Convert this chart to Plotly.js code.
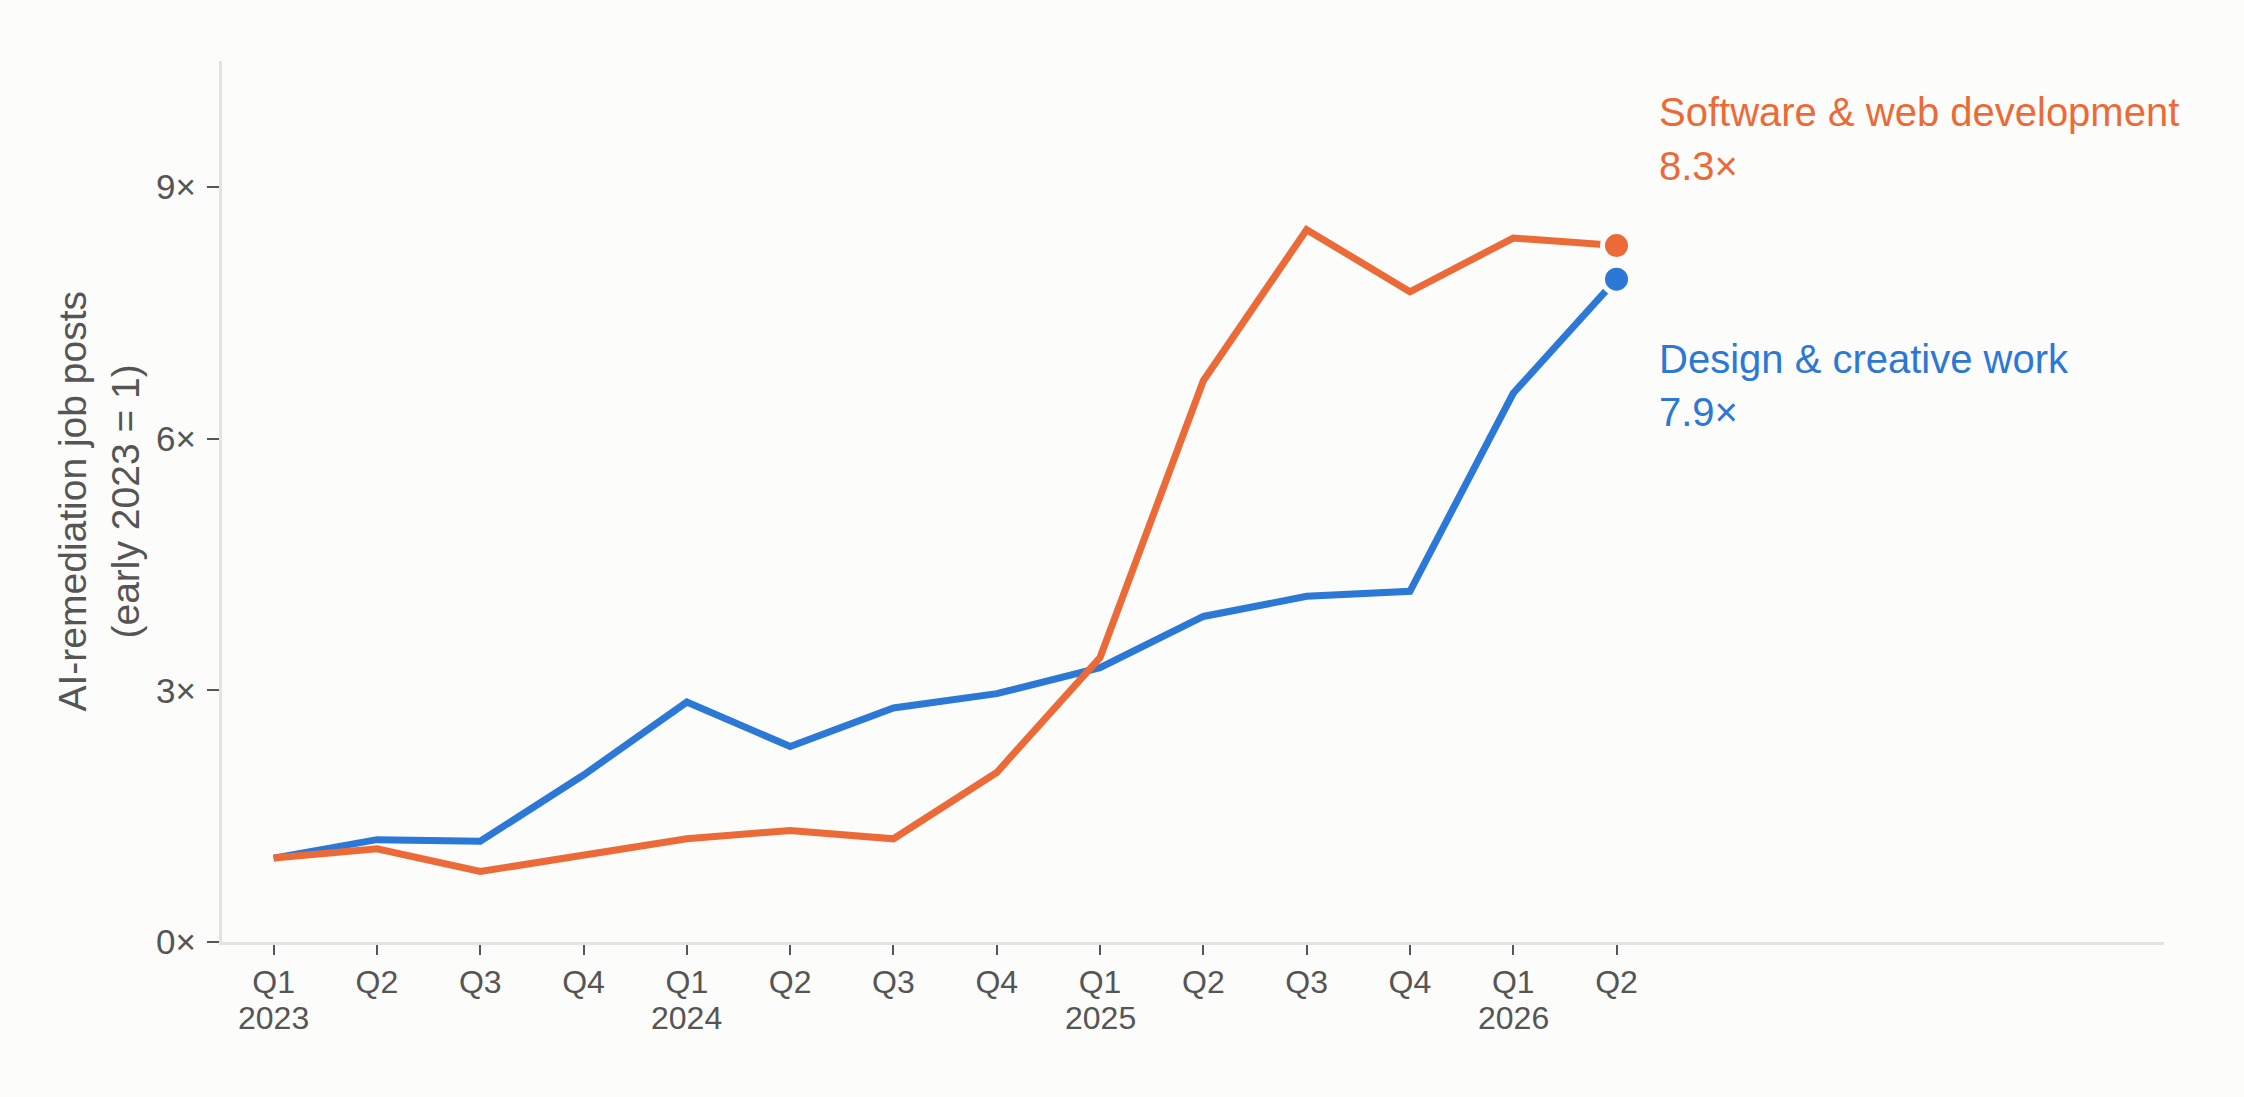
<!DOCTYPE html>
<html>
<head>
<meta charset="utf-8">
<script src="https://cdn.plot.ly/plotly-3.0.1.min.js"></script>
<style>
  html, body { margin: 0; padding: 0; background: #fcfcfa; }
  #chart { width: 2244px; height: 1097px; }
</style>
</head>
<body>
<div id="chart"></div>
<script>
// quarters from Q1 2023 to Q2 2026
const quarters = ['Q1', 'Q2', 'Q3', 'Q4', 'Q1', 'Q2', 'Q3', 'Q4', 'Q1', 'Q2', 'Q3', 'Q4', 'Q1', 'Q2'];
const years    = ['2023', '', '', '', '2024', '', '', '', '2025', '', '', '', '2026', ''];

// index, early 2023 = 1
const software = [1.0, 1.11, 0.84, 1.03, 1.23, 1.33, 1.23, 2.02, 3.39, 6.69, 8.49, 7.75, 8.39, 8.3];
const design   = [1.0, 1.22, 1.20, 1.99, 2.86, 2.33, 2.79, 2.96, 3.27, 3.88, 4.12, 4.18, 6.54, 7.9];

const yTicks = [0, 3, 6, 9];
const yTitle = ['AI-remediation job posts', '(early 2023 = 1)'];

const seriesNames  = ['Software & web development', 'Design & creative work'];
const seriesColors = ['#ec6a37', '#2b78d6'];

const FONT = 'Liberation Sans, Arial, Helvetica, sans-serif';
const TXT = '#555555';
const BG = '#fcfcfa';

const idx = quarters.map((q, i) => i);
const last = idx.length - 1;

const lineTrace = (y, color) => ({
    x: idx, y: y, type: 'scatter', mode: 'lines',
    line: { color: color, width: 7 }, hoverinfo: 'skip'
});
const endDot = (y, color) => ({
    x: [idx[last]], y: [y[last]], type: 'scatter', mode: 'markers',
    marker: { color: color, size: 28, line: { color: BG, width: 5 } },
    hoverinfo: 'skip'
});

const traces = [
    lineTrace(design, seriesColors[1]),
    lineTrace(software, seriesColors[0]),
    endDot(software, seriesColors[0]),
    endDot(design, seriesColors[1])
];

// end labels: name + last value, orange above, blue below
const labelAnn = (text, y, shift, color) => ({
    x: idx[last], y: y, xref: 'x', yref: 'y', text: text,
    showarrow: false, xanchor: 'left', yanchor: 'middle',
    xshift: 40, yshift: shift,
    font: { family: FONT, size: 40, color: color }
});

const annotations = [
    labelAnn(seriesNames[0], software[last], 134, seriesColors[0]),
    labelAnn(software[last].toFixed(1) + '×', software[last], 80, seriesColors[0]),
    labelAnn(seriesNames[1], design[last], -80, seriesColors[1]),
    labelAnn(design[last].toFixed(1) + '×', design[last], -133, seriesColors[1])
];

// y axis title, one annotation per line
yTitle.forEach((t, i) => annotations.push({
    xref: 'paper', yref: 'paper', x: 0, y: 0.5, xshift: [-150, -97][i],
    xanchor: 'center', yanchor: 'middle', textangle: -90, showarrow: false,
    text: t, font: { family: FONT, size: 39, color: TXT }
}));

// year row under the quarter ticks
years.forEach((yr, i) => {
    if (!yr) return;
    annotations.push({
        x: idx[i], xref: 'x', yref: 'paper', y: 0, yshift: -76,
        xanchor: 'center', yanchor: 'middle', showarrow: false,
        text: yr, font: { family: FONT, size: 32, color: TXT }
    });
});

const layout = {
    width: 2244, height: 1097,
    paper_bgcolor: BG, plot_bgcolor: BG,
    font: { family: FONT, color: TXT, size: 32 },
    showlegend: false,
    margin: { l: 222, r: 80, t: 61, b: 155 },
    xaxis: {
        range: [-0.5, 18.3],
        tickvals: idx, ticktext: quarters,
        ticks: 'outside', ticklen: 10, tickwidth: 2, tickcolor: TXT,
        showgrid: false, zeroline: false,
        showline: true, linecolor: '#e3e3e3', linewidth: 3,
        tickfont: { size: 32, color: TXT },
        fixedrange: true
    },
    yaxis: {
        range: [0, 10.5],
        tickvals: yTicks, ticktext: yTicks.map(v => v + '×'),
        ticks: 'outside', ticklen: 12, tickwidth: 2, tickcolor: TXT,
        ticklabelstandoff: 4,
        showgrid: false, zeroline: false,
        showline: true, linecolor: '#e3e3e3', linewidth: 3,
        tickfont: { size: 35, color: TXT },
        fixedrange: true
    },
    annotations: annotations
};

Plotly.newPlot('chart', traces, layout, { displayModeBar: false, staticPlot: true });
</script>
</body>
</html>
